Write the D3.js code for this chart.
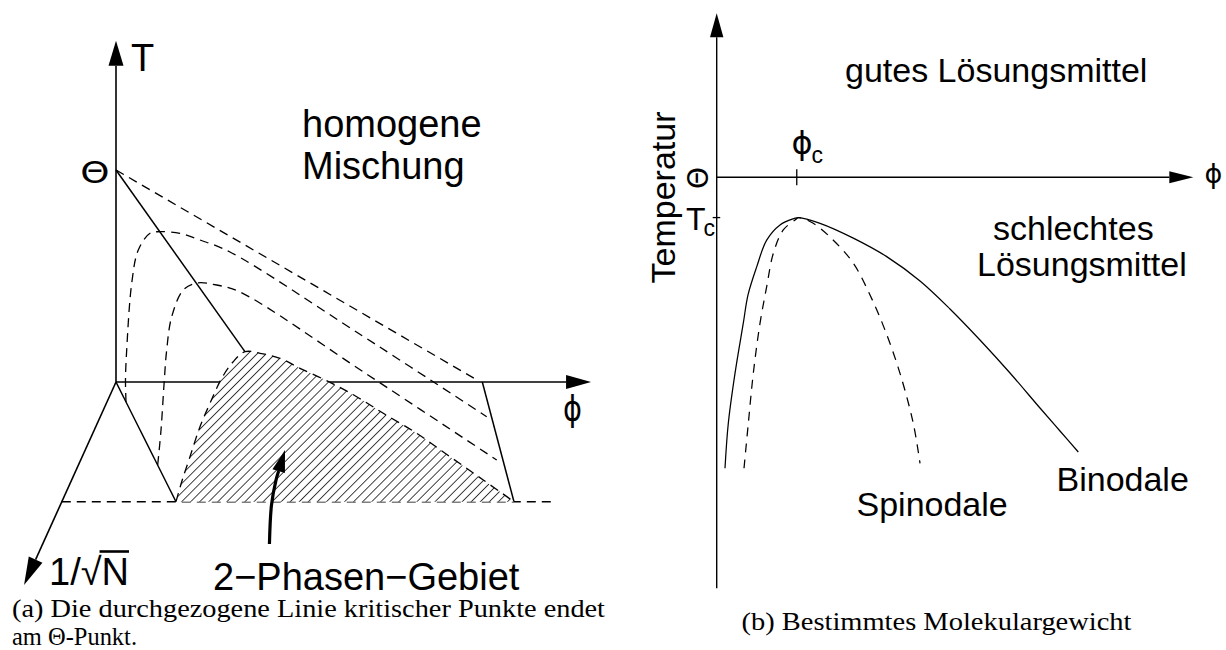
<!DOCTYPE html>
<html><head><meta charset="utf-8">
<script src="https://cdn.jsdelivr.net/npm/d3@7"></script>
<style>
html,body{margin:0;padding:0;background:#fff;}
svg{display:block;}
.sans{font-family:"Liberation Sans",Arial,Helvetica,sans-serif;}
.serif{font-family:"Liberation Serif","Times New Roman",serif;}
.greek{font-family:"DejaVu Sans","Liberation Sans",sans-serif;}
</style></head><body>
<svg id="fig" width="1226" height="650"></svg>
<script>
// ---------- (a) 3D sketch: phase diagram vs. chain length ----------
// coordinates in units of the back plane: phi (0..1), T/Theta (0..1)
const thetaPointA = [0, 1];
const axisTEndA = [0, 1.61];
const axisPhiEndA = [1.297, 0];
const axisNEndA = [-0.251, -0.958];
const floorLeftA = [[0, 0], [0.1638, -0.565]];
const floorRightA = [[1, 0], [1.0865, -0.565]];
const baseLineA = [[-0.148, -0.565], [1.193, -0.565]];
const criticalLineA = [[0, 1], [0.352, 0.143]];
// binodals for increasing 1/sqrt(N)
const binodalInf = [[0, 1], [0.985, 0.01]];
const binodalN1 = [[0.0273, -0.0943], [0.0259, 0.0094], [0.0292, 0.151], [0.0429, 0.4656], [0.0609, 0.6226],
  [0.0928, 0.7014], [0.1201, 0.709], [0.1747, 0.7014], [0.2293, 0.6698], [0.3112, 0.6132],
  [0.6607, 0.2311], [1.012, -0.1637]];
const binodalN2 = [[0.1138, -0.3915], [0.1229, -0.2264], [0.131, -0.0142], [0.1384, 0.151], [0.1521, 0.308],
  [0.1837, 0.434], [0.2211, 0.467], [0.2749, 0.4575], [0.3385, 0.4245], [0.688, 0.033], [1.0393, -0.368]];
// two-phase region of the shortest chains (left flank and top)
const twoPhaseLeft = [[0.1638, -0.5646], [0.1794, -0.4703], [0.202, -0.3524], [0.2293, -0.2108],
  [0.2566, -0.1005], [0.2886, 0.0175], [0.3194, 0.0943], [0.3522, 0.1429]];
const twoPhaseTop = [[0.3522, 0.1429], [0.3931, 0.1354], [0.4477, 0.1118], [0.5023, 0.0646], [0.5842, -0.0014],
  [0.6571, -0.0693], [0.7297, -0.1476], [0.8209, -0.242], [0.9118, -0.3524], [1.0027, -0.4623], [1.0865, -0.5646]];
const pointerA = [[0.4189, -0.7642], [0.4245, -0.5802], [0.4368, -0.4623], [0.4614, -0.3208]];

// ---------- (b) binodal and spinodal for one molecular weight ----------
const phiC = 0.168, Tc = 0.902, thetaB = 1;
const axisTEndB = 1.399, axisPhiEndB = 1;
const binodal = [[0.0174, 0.292], [0.0243, 0.401], [0.0384, 0.523], [0.0558, 0.645], [0.0657, 0.714],
  [0.0839, 0.782], [0.1049, 0.847], [0.1328, 0.884], [0.1607, 0.899], [0.172, 0.902], [0.2168, 0.888],
  [0.2866, 0.852], [0.3567, 0.807], [0.4266, 0.7477], [0.4895, 0.6796], [0.5524, 0.6041], [0.6154, 0.5238],
  [0.6783, 0.4387], [0.7203, 0.3827], [0.7587, 0.3316]];
const spinodal = [[0.0573, 0.292], [0.0663, 0.401], [0.0768, 0.523], [0.0909, 0.645], [0.1049, 0.734],
  [0.1188, 0.815], [0.1397, 0.872], [0.1643, 0.896], [0.172, 0.902], [0.2027, 0.888], [0.2447, 0.847],
  [0.2866, 0.791], [0.3217, 0.7136], [0.3531, 0.6285], [0.3846, 0.523], [0.4125, 0.401], [0.4266, 0.304]];

const labelsA = { T: "T", theta: "\u0398", phi: "\u03d5", n: "1/\u221aN", region1: "homogene", region2: "Mischung",
  twoPhase: "2\u2212Phasen\u2212Gebiet" };
const captionA = ["(a) Die durchgezogene Linie kritischer Punkte endet", "am \u0398-Punkt."];
const labelsB = { temp: "Temperatur", theta: "\u0398", Tc: "T", phi: "\u03d5", phiC: "\u03d5", sub: "c",
  good: "gutes L\u00f6sungsmittel", bad1: "schlechtes", bad2: "L\u00f6sungsmittel",
  spin: "Spinodale", bin: "Binodale" };
const captionB = "(b) Bestimmtes Molekulargewicht";

const svg = d3.select("#fig");
const defs = svg.append("defs");
defs.append("pattern").attr("id", "hatch").attr("patternUnits", "userSpaceOnUse")
  .attr("width", 6.4).attr("height", 6.4).attr("patternTransform", "rotate(45)")
  .append("line").attr("x1", 3.2).attr("y1", -1).attr("x2", 3.2).attr("y2", 7.4)
  .attr("stroke", "#222").attr("stroke-width", 0.85);

function arrowHead(g, tip, from, len, half) {
  const dx = tip[0] - from[0], dy = tip[1] - from[1], L = Math.hypot(dx, dy);
  const ux = dx / L, uy = dy / L, bx = tip[0] - ux * len, by = tip[1] - uy * len;
  g.append("path").attr("d", `M${tip[0]},${tip[1]}L${bx - uy * half},${by + ux * half}L${bx + uy * half},${by - ux * half}Z`)
    .attr("fill", "#000").attr("stroke", "none");
  return [bx, by];
}

// ===== panel (a) =====
const xL = d3.scaleLinear().domain([0, 1]).range([116, 482.3]);
const yL = d3.scaleLinear().domain([0, 1]).range([382, 170]);
const P = d => [xL(d[0]), yL(d[1])];
const straightL = d3.line().x(d => xL(d[0])).y(d => yL(d[1]));
const smoothL = d3.line().x(d => xL(d[0])).y(d => yL(d[1])).curve(d3.curveCatmullRom.alpha(0.5));
const gA = svg.append("g").attr("fill", "none").attr("stroke", "#000");

function axisArrow(g, start, end, len, half, sw) {
  const s = P(start), e = P(end);
  const b = arrowHead(g, e, s, len, half);
  g.append("line").attr("x1", s[0]).attr("y1", s[1]).attr("x2", b[0]).attr("y2", b[1]).attr("stroke-width", sw);
}
axisArrow(gA, [0, 0], axisTEndA, 25, 7.5, 1.6);
axisArrow(gA, [0, 0], axisPhiEndA, 25, 7, 1.6);
axisArrow(gA, [0, 0], axisNEndA, 28, 7.5, 1.6);

gA.append("path").attr("d", straightL(floorLeftA)).attr("stroke-width", 1.5);
gA.append("path").attr("d", straightL(floorRightA)).attr("stroke-width", 1.5);
gA.append("path").attr("d", straightL(baseLineA)).attr("stroke-width", 1.4).attr("stroke-dasharray", "9,6");

[binodalInf, binodalN1, binodalN2].forEach(c => {
  gA.append("path").attr("d", c.length > 2 ? smoothL(c) : straightL(c))
    .attr("stroke-width", 1.3).attr("stroke-dasharray", "9,6");
});
gA.append("path").attr("d", straightL(criticalLineA)).attr("stroke-width", 1.5);

// two-phase region: white fill, hatching, dashed outline
const regionPts = twoPhaseLeft.concat(twoPhaseTop.slice(1));
gA.append("path").attr("d", smoothL(regionPts) + "Z").attr("fill", "#fff").attr("stroke", "none");
gA.append("path").attr("d", smoothL(regionPts) + "Z").attr("fill", "url(#hatch)").attr("stroke", "none");
gA.append("path").attr("d", smoothL(regionPts)).attr("stroke-width", 1.3).attr("stroke-dasharray", "9,6");

// pointer to the two-phase region
const pp = pointerA.map(P);
const pb = arrowHead(svg, pp[pp.length - 1], pp[pp.length - 2], 22, 6.5);
gA.append("path").attr("d", d3.line().curve(d3.curveCatmullRom)(pp.slice(0, -1).concat([pb])))
  .attr("stroke-width", 3.2);

const tA = svg.append("g").attr("class", "sans").attr("fill", "#000");
tA.append("text").attr("x", 131).attr("y", 70.5).attr("font-size", 38).text(labelsA.T);
tA.append("text").attr("class", "greek").attr("transform", "translate(95,182.5) scale(1.2,1)")
  .attr("text-anchor", "middle").attr("font-size", 31).text(labelsA.theta);
tA.append("text").attr("class", "greek").attr("transform", "translate(572.5,421) scale(0.8,1)")
  .attr("text-anchor", "middle").attr("font-size", 36).text(labelsA.phi);
tA.append("text").attr("x", 302).attr("y", 137).attr("font-size", 38).text(labelsA.region1);
tA.append("text").attr("x", 302).attr("y", 179).attr("font-size", 38).text(labelsA.region2);
tA.append("text").attr("x", 213).attr("y", 590).attr("font-size", 38).text(labelsA.twoPhase);
const nLab = tA.append("text").attr("x", 49).attr("y", 585).attr("font-size", 38).text(labelsA.n);
{
  const node = nLab.node();
  const x0 = 49 + node.getSubStringLength(0, 3) - 2, x1 = 49 + node.getComputedTextLength();
  tA.append("line").attr("x1", x0).attr("x2", x1).attr("y1", 551.5).attr("y2", 551.5)
    .attr("stroke", "#000").attr("stroke-width", 2.6);
}
const capA = svg.append("g").attr("class", "serif").attr("fill", "#000").attr("font-size", 25);
capA.append("text").attr("x", 12).attr("y", 617).attr("textLength", 593).attr("lengthAdjust", "spacingAndGlyphs").text(captionA[0]);
capA.append("text").attr("x", 12).attr("y", 645).attr("textLength", 125).attr("lengthAdjust", "spacingAndGlyphs").text(captionA[1]);

// ===== panel (b) =====
const xR = d3.scaleLinear().domain([0, 1]).range([716.7, 1193.3]);
const yR = d3.scaleLinear().domain([0, 1]).range([588.3, 177.3]);
const smoothR = d3.line().x(d => xR(d[0])).y(d => yR(d[1])).curve(d3.curveCatmullRom.alpha(0.5));
const gB = svg.append("g").attr("fill", "none").attr("stroke", "#000");

{
  const b = arrowHead(gB, [xR(0), yR(axisTEndB)], [xR(0), yR(0)], 24, 6.7);
  gB.append("line").attr("x1", xR(0)).attr("y1", yR(0)).attr("x2", b[0]).attr("y2", b[1]).attr("stroke-width", 1.4);
  const c = arrowHead(gB, [xR(axisPhiEndB), yR(thetaB)], [xR(0), yR(thetaB)], 24, 6);
  gB.append("line").attr("x1", xR(0)).attr("y1", yR(thetaB)).attr("x2", c[0]).attr("y2", c[1]).attr("stroke-width", 1.4);
}
gB.append("line").attr("x1", xR(phiC)).attr("x2", xR(phiC)).attr("y1", yR(thetaB) - 8).attr("y2", yR(thetaB) + 8).attr("stroke-width", 1.3);
gB.append("line").attr("x1", xR(0) - 4).attr("x2", xR(0) + 3.5).attr("y1", yR(Tc)).attr("y2", yR(Tc)).attr("stroke-width", 1.3);
gB.append("path").attr("d", smoothR(binodal)).attr("stroke-width", 1.25);
gB.append("path").attr("d", smoothR(spinodal)).attr("stroke-width", 1.25).attr("stroke-dasharray", "9,7");

const tB = svg.append("g").attr("class", "sans").attr("fill", "#000");
tB.append("text").attr("transform", "translate(675,197.5) rotate(-90)").attr("text-anchor", "middle")
  .attr("font-size", 34).text(labelsB.temp);
tB.append("text").attr("class", "greek").attr("transform", "translate(708,178) rotate(-90)").attr("text-anchor", "middle")
  .attr("font-size", 28).text(labelsB.theta);
// T_c and phi_c as single texts with a lowered subscript
const tcText = tB.append("text").attr("x", 686).attr("y", 230).attr("font-size", 32);
tcText.append("tspan").text(labelsB.Tc);
tcText.append("tspan").attr("dx", -2).attr("dy", 5.5).attr("font-size", 23).text(labelsB.sub);
const pcText = tB.append("text").attr("x", 791.5).attr("y", 153.5).attr("font-size", 32);
pcText.append("tspan").attr("class", "greek").text(labelsB.phiC);
pcText.append("tspan").attr("dx", -1).attr("dy", 9.5).attr("font-size", 23).text(labelsB.sub);
tB.append("text").attr("class", "greek").attr("x", 1204.5).attr("y", 182.5).attr("font-size", 27).text(labelsB.phi);
tB.append("text").attr("x", 845).attr("y", 82).attr("font-size", 34).text(labelsB.good);
tB.append("text").attr("x", 993).attr("y", 239.5).attr("font-size", 34).text(labelsB.bad1);
tB.append("text").attr("x", 977).attr("y", 276).attr("font-size", 34).text(labelsB.bad2);
tB.append("text").attr("x", 856.5).attr("y", 516).attr("font-size", 34).text(labelsB.spin);
tB.append("text").attr("x", 1056.5).attr("y", 491).attr("font-size", 34).text(labelsB.bin);
svg.append("text").attr("class", "serif").attr("x", 741.5).attr("y", 630).attr("font-size", 25)
  .attr("textLength", 390).attr("lengthAdjust", "spacingAndGlyphs").text(captionB);
</script></body></html>
